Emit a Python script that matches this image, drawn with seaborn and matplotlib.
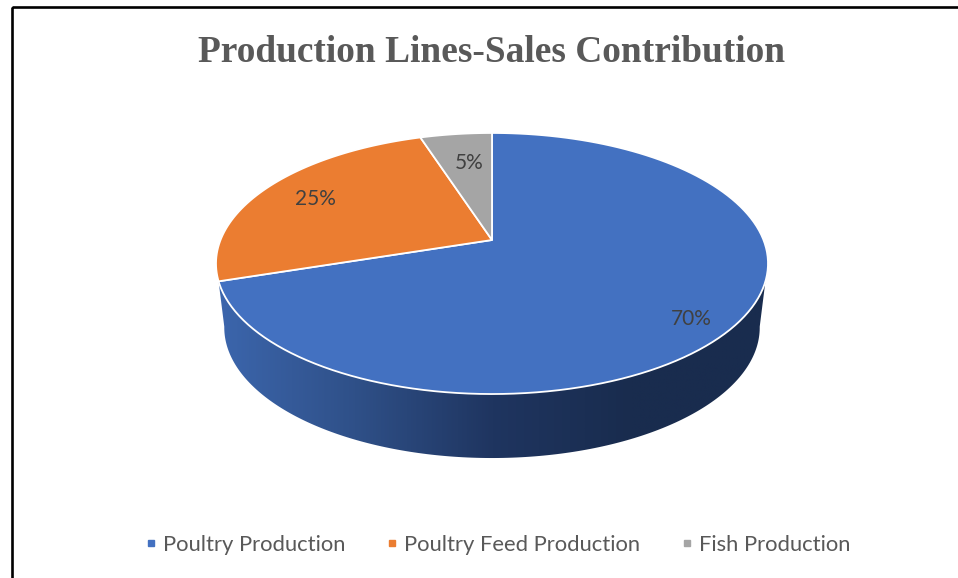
import matplotlib
matplotlib.use("Agg")
import matplotlib.pyplot as plt
import numpy as np
import seaborn as sns
from matplotlib.colors import LinearSegmentedColormap
from matplotlib.lines import Line2D
from matplotlib.patches import Polygon, Rectangle
from matplotlib.transforms import Affine2D

categories = ["Poultry Production", "Poultry Feed Production", "Fish Production"]
shares = [70, 25, 5]
title = "Production Lines-Sales Contribution"

colors = sns.color_palette(["#4371C1", "#EB7D31", "#A5A5A5"])
side_colors = ["#3C66AD", "#2F5088", "#1F3560", "#192C4E", "#192C4E"]
text_color = "#595959"
label_color = "#404040"

# pixel layout of the tilted pie
apex_x, apex_y = 492, 240
half_width = 271.5
tilt_a, tilt_k = 126.3, 0.18
depth = 64
label_pos = [(691, 319), (315, 199), (469, 163)]

sns.set_theme(style="white")
plt.rcParams["font.family"] = ["Lato", "DejaVu Sans"]


def project(x, y, shrink=1.0, drop=0):
    # circle -> ellipse with perspective, so the apex sits above the ellipse centre
    w = 1 + tilt_k * y
    return apex_x + shrink * half_width * x / w, apex_y + drop - tilt_a * y / w


fig = plt.figure(figsize=(9.58, 5.78), dpi=100)
ax = fig.add_axes([0, 0, 1, 1])

wedges, _ = ax.pie(shares, startangle=90, counterclock=False, radius=1)
for wedge, color in zip(wedges, colors):
    # flatten the pie's own wedge outline and tilt it
    path = wedge.get_path().transformed(Affine2D().scale(1000))
    pts = path.to_polygons()[0] / 1000
    px, py = project(pts[:, 0], pts[:, 1])
    wedge.remove()
    ax.add_patch(Polygon(np.column_stack([px, py]), closed=True, facecolor=color,
                         edgecolor="white", linewidth=1.3, zorder=3))

ax.set_aspect("auto")
ax.set_xlim(0, 958)
ax.set_ylim(578, 0)
ax.axis("off")

# side wall of the disc
top_t = np.radians(np.linspace(-162, -18, 200))
low_t = np.radians(np.linspace(-10, -170, 200))
tx, ty = project(np.cos(top_t), np.sin(top_t))
lx, ly = project(np.cos(low_t), np.sin(low_t), shrink=0.97, drop=depth)
wall = Polygon(np.column_stack([np.r_[tx, lx], np.r_[ty, ly]]), closed=True,
               facecolor="none", edgecolor="none", transform=ax.transData)
ax.add_patch(wall)
cmap = LinearSegmentedColormap.from_list("side", side_colors)
grad = ax.imshow(np.linspace(0, 1, 400).reshape(1, -1), cmap=cmap, aspect="auto",
                 extent=(216, 770, 460, 270), zorder=1)
grad.set_clip_path(wall)
ax.set_xlim(0, 958)
ax.set_ylim(578, 0)

for share, (x, y) in zip(shares, label_pos):
    ax.text(x, y, f"{share}%", color=label_color, fontsize=15, ha="center", va="center", zorder=4)

ax.text(492, 52, title, color=text_color, fontsize=26.9, fontweight="bold",
        family="Liberation Serif", ha="center", va="center")

handles = [Line2D([], [], linestyle="none", marker="s", markersize=5, color=c) for c in colors]
ax.legend(handles, categories, ncol=3, loc="center", bbox_to_anchor=(498 / 958, 1 - 545 / 578),
          frameon=False, fontsize=15.8, labelcolor=text_color, handlelength=0.5, handletextpad=0.3,
          columnspacing=1.89, borderpad=0, borderaxespad=0)

# page frame, only left and top fall inside the crop
ax.add_patch(Rectangle((12, 7), 3000, 3000, facecolor="none", edgecolor="black", linewidth=1.9, zorder=5))

fig.savefig("out.png", dpi=100)
